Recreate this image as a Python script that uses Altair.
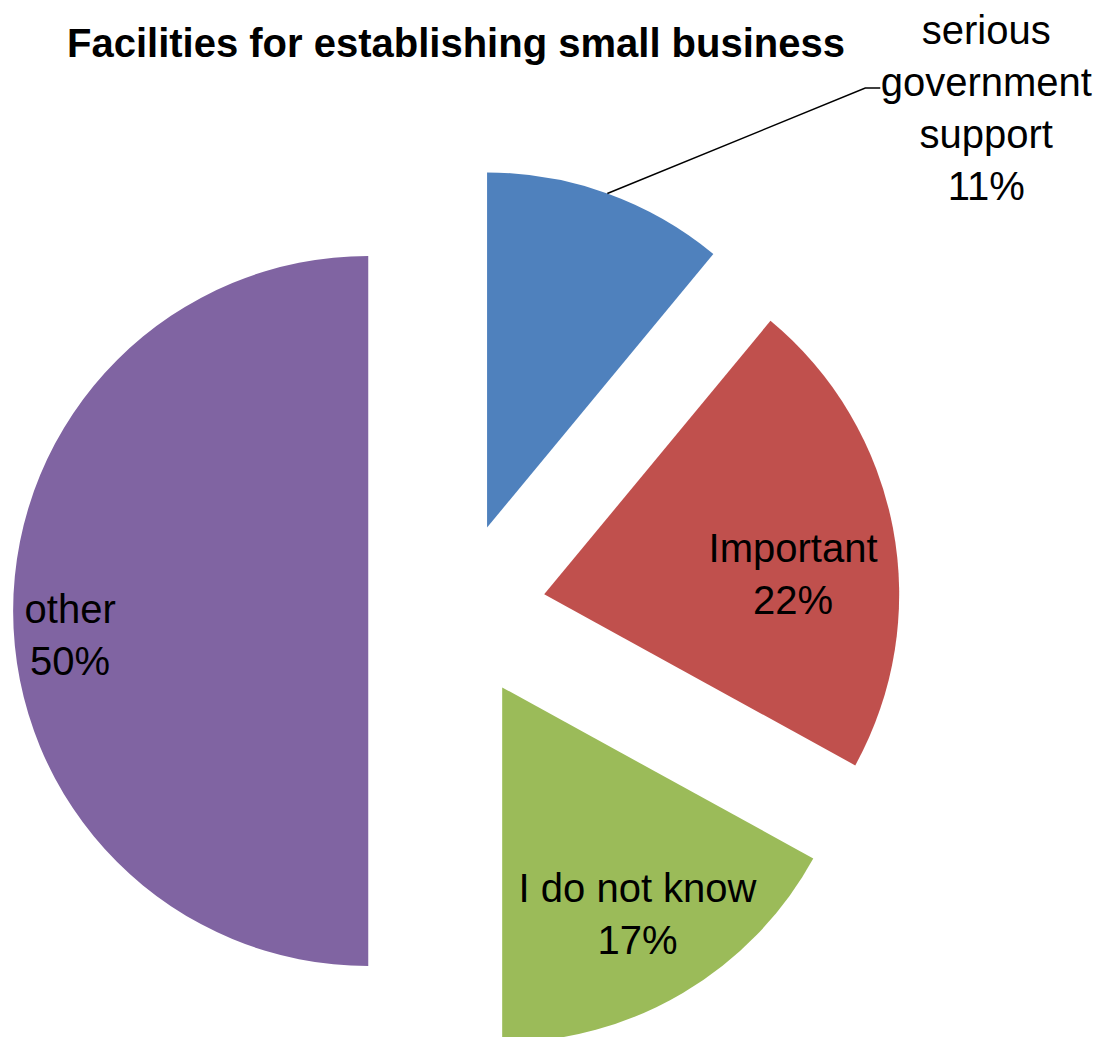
import altair as alt
import numpy as np
import pandas as pd

# ---- data ----
categories = ["serious government support", "Important", "I do not know", "other"]
label_names = ["serious\ngovernment\nsupport", "Important", "I do not know", "other"]
values = [11, 22, 17, 50]
colors = ["#4F81BD", "#C0504D", "#9BBB59", "#8064A2"]

# ---- layout / style ----
W, H = 1088, 1029          # plot area (px)
R = 355                    # pie radius (px)
CX, CY = 449, 603          # pie centre in plot px
EXPLODE = 0.25             # explosion, fraction of radius
label_r = [1.833, 0.703, 0.749, 0.843]   # label distance from slice apex (x R)
label_turn = [30.3, 6.6, 0.0, -5.0]      # label angle shift (deg)
FONT = "Liberation Sans"
FS = 40
LH = 52

vals = np.array(values, dtype=float)
total = vals.sum()
cum_end = np.cumsum(vals)
cum_start = cum_end - vals
mid = (cum_start + cum_end) / 2 / total * 2 * np.pi

ax = EXPLODE * np.sin(mid)
ay = EXPLODE * np.cos(mid)

slices = pd.DataFrame({
    "category": categories,
    "value": vals,
    "start": cum_start,
    "end": cum_end,
    "cx": ax,
    "cy": ay,
})

lang = mid + np.radians(label_turn)
lx = ax + np.array(label_r) * np.sin(lang)
ly = ay + np.array(label_r) * np.cos(lang)
texts = [f"{n}\n{int(v)}%" for n, v in zip(label_names, values)]
nlines = np.array([t.count("\n") + 1 for t in texts])
# Vega anchors the first line; shift so the block is centred on the label point
ly_first = ly + (nlines - 1) / 2 * LH / R
labels = pd.DataFrame({"text": texts, "x": lx, "y": ly_first})

# leader line for the first (outside) label
s0x = ax[0] + np.sin(mid[0])
s0y = ay[0] + np.cos(mid[0])
leader = pd.DataFrame({
    "x": [s0x, lx[0] - 121 / R, lx[0] - 106 / R],
    "y": [s0y, ly[0] + 22 / R, ly[0] + 22 / R],
    "order": [0, 1, 2],
})

xscale = alt.Scale(domain=[-CX / R, (W - CX) / R], nice=False, zero=False)
yscale = alt.Scale(domain=[-(H - CY) / R, CY / R], nice=False, zero=False)

arcs = alt.Chart(slices).mark_arc(radius=R, stroke=None).encode(
    x=alt.X("cx:Q", scale=xscale, axis=None),
    y=alt.Y("cy:Q", scale=yscale, axis=None),
    theta=alt.Theta("start:Q", scale=alt.Scale(domain=[0, total], range=[0, 2 * np.pi]), stack=None),
    theta2="end:Q",
    color=alt.Color("category:N", scale=alt.Scale(domain=categories, range=colors), legend=None),
)

text = alt.Chart(labels).mark_text(
    font=FONT, fontSize=FS, lineBreak="\n", lineHeight=LH,
    align="center", baseline="middle", color="black",
).encode(
    x=alt.X("x:Q", scale=xscale, axis=None),
    y=alt.Y("y:Q", scale=yscale, axis=None),
    text="text:N",
)

line = alt.Chart(leader).mark_line(color="black", strokeWidth=1.5).encode(
    x=alt.X("x:Q", scale=xscale, axis=None),
    y=alt.Y("y:Q", scale=yscale, axis=None),
    order="order:Q",
)

chart = alt.layer(arcs, line, text).properties(
    width=W,
    height=H,
    autosize="none",
    padding=0,
    background="white",
    title=alt.TitleParams(
        text="Facilities for establishing small business",
        font=FONT, fontSize=40, fontWeight="bold", color="black",
        anchor="middle", offset=0, dx=-96, dy=89, baseline="alphabetic",
    ),
).configure_view(stroke=None)

chart.save("out.html", embed_options={"renderer": "svg", "actions": False})
